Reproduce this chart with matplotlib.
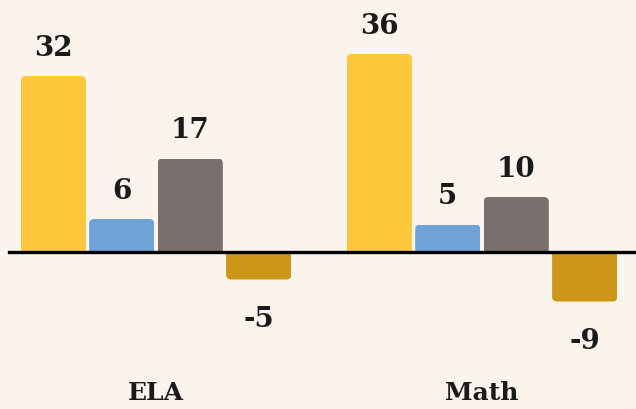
import matplotlib.pyplot as plt
from matplotlib.patches import FancyBboxPatch

# data
subjects = ['ELA', 'Math']
series_colors = ['#FDC83B', '#6FA3D7', '#7A6F6D', '#CC9618']
ela_values = [32, 6, 17, -5]
math_values = [36, 5, 10, -9]
values = [ela_values, math_values]

bg = '#FAF4EC'
fig = plt.figure(figsize=(6.36, 4.09), dpi=100, facecolor=bg)
ax = fig.add_axes([0, 0, 1, 1])
ax.set_facecolor(bg)

step = 0.21
width = 0.2
px_x = 326.0   # pixels per x unit
px_y = 5.5     # pixels per y unit
ax.set_xlim(-156 / px_x, (636 - 156) / px_x)
ax.set_ylim(-(409 - 252) / px_y, 252 / px_y)

r = 5.0 / px_x  # corner radius in x units
for g, vals in enumerate(values):
    for i, v in enumerate(vals):
        x = g + (i - 1.5) * step
        rect = ax.bar(x, v, width=width, color='none', linewidth=0)[0]
        ry = r * px_x / px_y
        y0 = -ry if v > 0 else ry
        fb = FancyBboxPatch((x - width / 2, min(y0, v)), width, abs(v - y0),
                            boxstyle=f'round,pad=0,rounding_size={r}',
                            mutation_aspect=px_x / px_y,
                            facecolor=series_colors[i], edgecolor='none')
        ax.add_patch(fb)
        fb.set_clip_path(rect)
        off = 20 if v > 0 else -29
        ax.annotate(str(v), (x, v), xytext=(0, off), textcoords='offset points',
                    ha='center', va='center', fontsize=20, fontweight='bold',
                    family='DejaVu Serif', color='#1a1a1a')

ax.axhline(0, xmin=9 / 636, xmax=1, color='black', linewidth=2.4)

for g, name in enumerate(subjects):
    ax.text(g, 16 / 409, name, transform=ax.get_xaxis_transform(),
            ha='center', va='center', fontsize=18, fontweight='bold',
            family='DejaVu Serif', color='#1a1a1a')

ax.axis('off')
fig.savefig('out.png', dpi=100, facecolor=bg)
